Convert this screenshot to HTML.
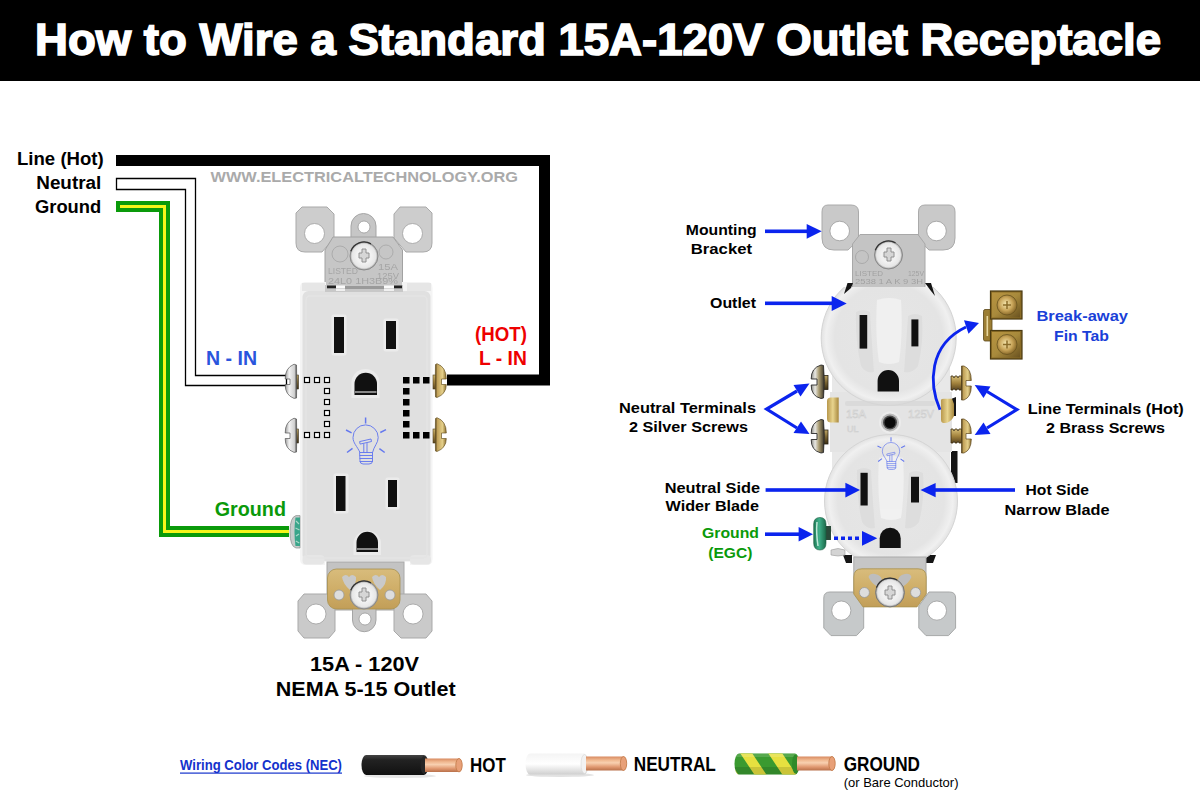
<!DOCTYPE html>
<html><head><meta charset="utf-8">
<style>
html,body{margin:0;padding:0;background:#fff;width:1200px;height:800px;overflow:hidden}
svg{display:block;font-family:"Liberation Sans",sans-serif}
</style></head><body>
<svg width="1200" height="800" viewBox="0 0 1200 800">
<defs>
 <radialGradient id="gScrew" cx="0.5" cy="0.5" r="0.5">
  <stop offset="0" stop-color="#dedede"/><stop offset="0.5" stop-color="#f2f2f2"/><stop offset="0.85" stop-color="#e6e6e6"/><stop offset="1" stop-color="#9a9a9a"/>
 </radialGradient>
 <linearGradient id="gSilverH" x1="0" x2="1" y1="0" y2="0">
  <stop offset="0" stop-color="#9a9a9a"/><stop offset="0.35" stop-color="#f2f2f2"/><stop offset="0.8" stop-color="#d0d0d0"/><stop offset="1" stop-color="#444"/>
 </linearGradient>
 <linearGradient id="gBrassH" x1="1" x2="0" y1="0" y2="0">
  <stop offset="0" stop-color="#8a6d2c"/><stop offset="0.35" stop-color="#e4cf8a"/><stop offset="0.8" stop-color="#c2a25a"/><stop offset="1" stop-color="#4a3a18"/>
 </linearGradient>
 <linearGradient id="gGreenH" x1="0" x2="1" y1="0" y2="0">
  <stop offset="0" stop-color="#9fb8b0"/><stop offset="0.4" stop-color="#4da58b"/><stop offset="1" stop-color="#2b7a63"/>
 </linearGradient>
 <linearGradient id="gBrassPlate" x1="0" x2="0" y1="0" y2="1">
  <stop offset="0" stop-color="#d8bc7c"/><stop offset="0.5" stop-color="#cfae68"/><stop offset="1" stop-color="#c29e58"/>
 </linearGradient>

 <radialGradient id="gFace" cx="0.5" cy="0.5" r="0.5">
  <stop offset="0" stop-color="#e6e6e6"/><stop offset="0.8" stop-color="#e4e4e4"/><stop offset="0.93" stop-color="#f0f0f0"/><stop offset="1" stop-color="#e2e2e2"/>
 </radialGradient>
 <linearGradient id="gThread" x1="0" x2="0" y1="0" y2="1">
  <stop offset="0" stop-color="#c0a868"/><stop offset="0.5" stop-color="#7a6432"/><stop offset="1" stop-color="#3a2e14"/>
 </linearGradient>
 <linearGradient id="gThreadB" x1="0" x2="0" y1="0" y2="1">
  <stop offset="0" stop-color="#d8c07a"/><stop offset="0.5" stop-color="#a4843e"/><stop offset="1" stop-color="#5a4520"/>
 </linearGradient>
 <linearGradient id="gBrassTab" x1="0" x2="1" y1="0" y2="0">
  <stop offset="0" stop-color="#b8984c"/><stop offset="0.5" stop-color="#e8d48e"/><stop offset="1" stop-color="#a8883e"/>
 </linearGradient>
 <linearGradient id="gGreenR" x1="0" x2="1" y1="0" y2="0">
  <stop offset="0" stop-color="#1f7a55"/><stop offset="0.45" stop-color="#3fb08a"/><stop offset="1" stop-color="#1b6a4a"/>
 </linearGradient>
 <linearGradient id="gFinSq" x1="0" x2="1" y1="0" y2="1">
  <stop offset="0" stop-color="#b89440"/><stop offset="0.5" stop-color="#a88a3c"/><stop offset="1" stop-color="#6a5220"/>
 </linearGradient>
 <radialGradient id="gFinC" cx="0.45" cy="0.45" r="0.55">
  <stop offset="0" stop-color="#f6e8b0"/><stop offset="0.6" stop-color="#c8a458"/><stop offset="1" stop-color="#8a6a2a"/>
 </radialGradient>

 <linearGradient id="gBlackW" x1="0" x2="0" y1="0" y2="1">
  <stop offset="0" stop-color="#444"/><stop offset="0.25" stop-color="#222"/><stop offset="1" stop-color="#111"/>
 </linearGradient>
 <linearGradient id="gWhiteW" x1="0" x2="0" y1="0" y2="1">
  <stop offset="0" stop-color="#f4f4f4"/><stop offset="0.5" stop-color="#ffffff"/><stop offset="1" stop-color="#cfcfcf"/>
 </linearGradient>
 <linearGradient id="gCopper" x1="0" x2="0" y1="0" y2="1">
  <stop offset="0" stop-color="#d88a60"/><stop offset="0.25" stop-color="#f0b890"/><stop offset="0.45" stop-color="#f8d0b0"/><stop offset="0.75" stop-color="#e09870"/><stop offset="1" stop-color="#b8704a"/>
 </linearGradient>
 <linearGradient id="gSilverR" x1="0" x2="1" y1="0" y2="0">
  <stop offset="0" stop-color="#8a8a84"/><stop offset="0.3" stop-color="#e8e8e4"/><stop offset="0.6" stop-color="#a89a70"/><stop offset="1" stop-color="#3a3428"/>
 </linearGradient>
<filter id="fBlur" x="-5%" y="-20%" width="110%" height="140%"><feGaussianBlur stdDeviation="0.35"/></filter>
</defs>
<!-- title bar -->
<rect x="0" y="0" width="1200" height="81" fill="#000"/>
<text x="35" y="55" font-size="44" font-weight="bold" fill="#fff" stroke="#fff" stroke-width="1.6" textLength="1126" lengthAdjust="spacingAndGlyphs">How to Wire a Standard 15A-120V Outlet Receptacle</text>


<!-- LEFT wiring -->
<g font-weight="bold">
<text x="17.0" y="165" font-size="18" textLength="86.73" lengthAdjust="spacingAndGlyphs">Line (Hot)</text>
<text x="36.25" y="189.25" font-size="18" textLength="65.02" lengthAdjust="spacingAndGlyphs">Neutral</text>
<text x="35.0" y="212.5" font-size="18" textLength="66.24" lengthAdjust="spacingAndGlyphs">Ground</text>
</g>
<!-- hot wire -->
<path d="M116 160.5 H544.5 V380 H447" fill="none" stroke="#000" stroke-width="11"/>
<!-- neutral wire -->
<path d="M116.5 178.5 H195.5 V375.5 H286.5 V385.5 H185.5 V189.5 H116.5 Z" fill="#fff" stroke="#000" stroke-width="1.3"/>
<!-- ground wire -->
<path d="M116 206.5 H164.5 V531.5 H289" fill="none" stroke="#0a9a0a" stroke-width="11"/>
<path d="M120 206.5 H164.5 V531.5 H289" fill="none" stroke="#f5f51a" stroke-width="3"/>
<!-- ===== LEFT OUTLET ===== -->
<g id="L">
 <!-- top bracket ears -->
 <path d="M302 207 H327 L334 214 V238 L322 252 H305 Q296 252 296 243 V213 Z" fill="#cdcdcd" stroke="#a9a9a9" stroke-width="1"/>
 <path d="M400 207 H426 L432 213 V243 Q432 252 423 252 H406 L394 238 V214 Z" fill="#cdcdcd" stroke="#a9a9a9" stroke-width="1"/>
 <circle cx="314.5" cy="233.5" r="10" fill="#fff" stroke="#a0a0a0" stroke-width="0.8"/>
 <circle cx="412.5" cy="233.5" r="10" fill="#fff" stroke="#a0a0a0" stroke-width="0.8"/>
 <!-- center tab -->
 <path d="M351 238 V226 A12.5 12.5 0 0 1 376 226 V238 Z" fill="#c6c6c6" stroke="#a5a5a5" stroke-width="1"/>
 <circle cx="364" cy="227" r="6" fill="#fff" stroke="#9a9a9a" stroke-width="0.8"/>
 <!-- plate -->
 <path d="M333 237 H393 L402.5 250 V287 H325 V250 Z" fill="#c6c6c6" stroke="#a2a2a2" stroke-width="1"/>
 <g fill="none" stroke="#a4a4a4" stroke-width="0.8">
  <circle cx="340" cy="254" r="8"/>
  <circle cx="386" cy="252" r="7"/>
 </g>
 <g font-size="9" fill="#8a8a8a" opacity="0.55" filter="url(#fBlur)">
  <text x="328" y="274" textLength="30" lengthAdjust="spacingAndGlyphs">LISTED</text>
  <text x="378" y="270" textLength="20" lengthAdjust="spacingAndGlyphs">15A</text>
  <text x="377" y="279" textLength="22" lengthAdjust="spacingAndGlyphs">125V</text>
  <text x="328" y="284" textLength="70" lengthAdjust="spacingAndGlyphs">24L0 1H3B9%</text>
 </g>
 <!-- screw top -->
 <circle cx="364" cy="256" r="14" fill="url(#gScrew)" stroke="#8a8a8a" stroke-width="1"/>
 <path d="M350.8 251.2 A14.0 14.0 0 0 1 371.0 243.9" fill="none" stroke="#333" stroke-width="1.3"/>
 <path d="M359 253 h3 v-4 h4 v4 h3 v5 h-3 v4 h-4 v-4 h-3 Z" fill="#d6d6d6" stroke="#8a8a8a" stroke-width="0.9" stroke-linejoin="round"/>
 <!-- body -->
 <path d="M300 288 Q300 282 305 282 H326 V291 H402 V282 H428 Q432.5 282 432.5 288 V559 Q432.5 565 427 565 H410 V562 H325 V565 H306 Q300 565 300 559 Z" fill="#f4f4f4"/>
 <rect x="302.5" y="291" width="128" height="270" rx="6" fill="#e0e0e0"/>
 <rect x="302.5" y="555" width="22" height="9.5" rx="4" fill="#e6e6e6"/>
 <rect x="410" y="555" width="21" height="9.5" rx="4" fill="#e6e6e6"/>
 <rect x="306" y="296" width="121" height="262" rx="4" fill="none" stroke="#e4e4e4" stroke-width="1.5"/>
 <rect x="302" y="283" width="23" height="8" fill="#e6e6e6"/>
 <rect x="407" y="283" width="24" height="8" fill="#e6e6e6"/>
 <rect x="325" y="285" width="78" height="7" fill="#c8c8c8"/>
 <rect x="327" y="285.5" width="9" height="2.8" fill="#222"/>
 <rect x="394" y="285.5" width="8" height="2.8" fill="#222"/>
 <rect x="336" y="285.5" width="9" height="2.8" fill="#fafafa"/>
 <rect x="384" y="285.5" width="10" height="2.8" fill="#fafafa"/>
 <rect x="345" y="286" width="39" height="3" fill="#9a9a9a"/>
 <rect x="336" y="289" width="9" height="2" fill="#f0f0f0"/>
 <rect x="384" y="289" width="10" height="2" fill="#f0f0f0"/>
 <!-- slots upper -->
 <rect x="331.5" y="314.5" width="15" height="41" rx="2" fill="#ebebeb"/>
 <rect x="383.5" y="318.5" width="15" height="33" rx="2" fill="#ebebeb"/>
 <rect x="334" y="317" width="10" height="36" fill="#111"/>
 <rect x="386" y="321" width="10" height="28" fill="#111"/>
 <path d="M351.5 398 V383 A14 14 0 0 1 379.5 383 V398 Z" fill="#ebebeb"/>
 <path d="M354.5 395 V384 A11.2 11.2 0 0 1 377 384 V395 Z" fill="#111"/>
 <rect x="355" y="391" width="21.5" height="2" fill="#888"/>
 <!-- slots lower -->
 <rect x="333.5" y="473.5" width="15" height="40" rx="2" fill="#ebebeb"/>
 <rect x="385.5" y="477.5" width="14" height="32" rx="2" fill="#ebebeb"/>
 <rect x="336" y="476" width="9.5" height="35" fill="#111"/>
 <rect x="388" y="480" width="9" height="27" fill="#111"/>
 <path d="M353.5 555 V542 A14 14 0 0 1 381 542 V555 Z" fill="#ebebeb"/>
 <path d="M356.5 552 V542.5 A10.7 10.7 0 0 1 378 542.5 V552 Z" fill="#111"/>
 <rect x="357" y="548" width="21" height="2" fill="#888"/>
 <!-- screws left silver -->
 <g id="sScrewL">
  <rect x="293" y="375" width="5.5" height="14" fill="url(#gThread)" stroke="#3a3020" stroke-width="0.6"/>
  <path d="M294 364.2 Q285 368 285.2 379 H290 V384.5 H285.2 Q285 395 294 398.4 L296.5 398 Q297 381 296.5 365 Z" fill="url(#gSilverH)" stroke="#555" stroke-width="0.7"/>
 </g>
 <use href="#sScrewL" y="54"/>
 <!-- brass screws right -->
 <g id="bScrewL">
  <rect x="433" y="375" width="5" height="14" fill="url(#gThreadB)" stroke="#4a3a18" stroke-width="0.6"/>
  <path d="M437 363.7 Q446.3 367 446.3 379 H441.5 V384.5 H446.3 Q446.3 394 437 397.5 L435.5 397 Q435 381 435.5 364.5 Z" fill="url(#gBrassH)" stroke="#6a5424" stroke-width="0.7"/>
 </g>
 <use href="#bScrewL" y="54"/>
 <!-- green ground screw -->
 <path d="M300 515.6 H296 Q290 517 290 531.8 Q290 546.5 296 548 H300 Z" fill="#c8cccb" stroke="#8a8e8c" stroke-width="0.7"/>
 <path d="M300 517.5 H295.5 Q293.5 531.8 295.5 546 H300 Z" fill="#3aa58a"/>
 <path d="M296 521 l3 3 M295.5 528 l4 2 M296 536 l3 -2 M295.8 541 l3.5 2" stroke="#a8d8c8" stroke-width="1.2"/>
 <!-- dotted squares -->
 <g fill="#fff" stroke="#000" stroke-width="1.2">
  <rect x="304.5" y="377.5" width="5" height="5"/><rect x="314.5" y="377.5" width="5" height="5"/><rect x="324.5" y="377.5" width="5" height="5"/>
  <rect x="324.5" y="388.5" width="5" height="5"/><rect x="324.5" y="399.5" width="5" height="5"/><rect x="324.5" y="410.5" width="5" height="5"/><rect x="324.5" y="421.5" width="5" height="5"/>
  <rect x="304.5" y="432.5" width="5" height="5"/><rect x="314.5" y="432.5" width="5" height="5"/><rect x="324.5" y="432.5" width="5" height="5"/>
 </g>
 <g fill="#000">
  <rect x="403" y="377" width="6.5" height="6.5"/><rect x="413" y="377" width="6.5" height="6.5"/><rect x="423" y="377" width="6.5" height="6.5"/>
  <rect x="403" y="388" width="6.5" height="6.5"/><rect x="403" y="399" width="6.5" height="6.5"/><rect x="403" y="410" width="6.5" height="6.5"/><rect x="403" y="421" width="6.5" height="6.5"/>
  <rect x="403" y="432" width="6.5" height="6.5"/><rect x="413" y="432" width="6.5" height="6.5"/><rect x="423" y="432" width="6.5" height="6.5"/>
 </g>
 <!-- bulb -->
 <g id="bulb" fill="none" stroke="#6478ee" stroke-width="0.95" stroke-linecap="round">
  <g stroke-width="1.5" stroke-linecap="butt">
  <path d="M365.6 417.5 V423.5"/>
  <path d="M346 430 L351.6 432.8"/><path d="M380.3 432.5 L386 429.7"/>
  <path d="M347 452.5 L352.5 448.4"/><path d="M379.4 448.7 L384.7 452.5"/>
  </g>
  <path d="M360 452.5 C357 446 353 443 353 437.5 A12.6 12.6 0 0 1 378.2 437.5 C378.2 443 374 446 372.5 452.5"/>
  <path d="M360 452.5 H372.5 V461 Q372.5 464 369 464 H363 Q360 464 360 461 Z"/>
  <path d="M360 455.5 H372.5 M360 458.5 H372.5 M360 461.5 H372.5"/>
  <path d="M363.8 452.5 V444 M367 452.5 V443.5"/>
  <path d="M360 441.5 L371 439 L371.5 441.5 L360.5 444 Z"/>
 </g>
 <!-- bottom bracket -->
 <rect x="327" y="562" width="77" height="48" fill="#c3c3c3" stroke="#a8a8a8" stroke-width="1"/>
 <path d="M304 594 H328 L335 602 V631 L329 638 H304 L298 631 V601 Z" fill="#cacaca" stroke="#a9a9a9" stroke-width="1"/>
 <path d="M400 594 H426 L432 601 V631 L426 638 H401 L394 631 V602 Z" fill="#cacaca" stroke="#a9a9a9" stroke-width="1"/>
 <circle cx="316" cy="614" r="10" fill="#fff" stroke="#a0a0a0" stroke-width="0.8"/>
 <circle cx="413" cy="614" r="10" fill="#fff" stroke="#a0a0a0" stroke-width="0.8"/>
 <path d="M352.5 605 V620 A11.75 11.75 0 0 0 376 620 V605 Z" fill="#c6c6c6" stroke="#a5a5a5" stroke-width="1"/>
 <circle cx="365" cy="619" r="6" fill="#fff" stroke="#9a9a9a" stroke-width="0.8"/>
 <rect x="327.5" y="569" width="72.5" height="40" rx="9" fill="url(#gBrassPlate)" stroke="#a8904c" stroke-width="0.8"/>
 <path d="M342 577 Q346 573 349 577 Q352 573 356 577 Q357 584 350 590 Q343 584 342 577 Z" fill="#c9c9c9"/>
 <path d="M372 577 Q376 573 379 577 Q382 573 386 577 Q387 584 380 590 Q373 584 372 577 Z" fill="#c9c9c9"/>
 <circle cx="339" cy="595" r="5" fill="#ddd" stroke="#999" stroke-width="0.8"/>
 <circle cx="390" cy="595" r="5" fill="#ddd" stroke="#999" stroke-width="0.8"/>
 <circle cx="364" cy="595" r="14" fill="url(#gScrew)" stroke="#8a8a8a" stroke-width="1"/>
 <path d="M350.8 590.2 A14.0 14.0 0 0 1 371.0 582.9" fill="none" stroke="#333" stroke-width="1.3"/>
 <path d="M359 592 h3 v-4 h4 v4 h3 v5 h-3 v4 h-4 v-4 h-3 Z" fill="#d6d6d6" stroke="#8a8a8a" stroke-width="0.9" stroke-linejoin="round"/>
</g>


<text x="210.5" y="182" font-size="15" font-weight="bold" fill="#aaa" textLength="307.5" lengthAdjust="spacingAndGlyphs">WWW.ELECTRICALTECHNOLOGY.ORG</text>

<g font-weight="bold">
<text x="206.0" y="365" font-size="20" textLength="51.02" lengthAdjust="spacingAndGlyphs" fill="#2a55dd">N - IN</text>
<text x="475.0" y="341" font-size="19.5" textLength="51.85" lengthAdjust="spacingAndGlyphs" fill="#e00">(HOT)</text>
<text x="479.0" y="364.6" font-size="19.5" textLength="47.79" lengthAdjust="spacingAndGlyphs" fill="#e00">L - IN</text>
<text x="214.7" y="515.6" font-size="19.5" textLength="71.3" lengthAdjust="spacingAndGlyphs" fill="#0a9a0a">Ground</text>
</g>

<g font-weight="bold">
<text x="310.0" y="671" font-size="20" textLength="109.04" lengthAdjust="spacingAndGlyphs">15A - 120V</text>
<text x="275.8" y="695.5" font-size="20" textLength="179.96" lengthAdjust="spacingAndGlyphs">NEMA 5-15 Outlet</text>
</g>

<!-- RIGHT labels -->
<g font-weight="bold">
<text x="685.8" y="235" font-size="15" textLength="70.87" lengthAdjust="spacingAndGlyphs">Mounting</text>
<text x="690.8" y="253.7" font-size="15" textLength="61.24" lengthAdjust="spacingAndGlyphs">Bracket</text>
<text x="710.0" y="308.3" font-size="15" textLength="46.03" lengthAdjust="spacingAndGlyphs">Outlet</text>
<text x="619.0" y="412.6" font-size="15" textLength="136.99" lengthAdjust="spacingAndGlyphs">Neutral Terminals</text>
<text x="629.0" y="431.6" font-size="15" textLength="118.97" lengthAdjust="spacingAndGlyphs">2 Silver Screws</text>
<text x="1027.8" y="414.4" font-size="15" textLength="156.0" lengthAdjust="spacingAndGlyphs">Line Terminals (Hot)</text>
<text x="1046.0" y="433.3" font-size="15" textLength="119.01" lengthAdjust="spacingAndGlyphs">2 Brass Screws</text>
<text x="664.7" y="493" font-size="15" textLength="95.33" lengthAdjust="spacingAndGlyphs">Neutral Side</text>
<text x="665.6" y="511.3" font-size="15" textLength="93.35" lengthAdjust="spacingAndGlyphs">Wider Blade</text>
<text x="1025.5" y="495.4" font-size="15" textLength="63.54" lengthAdjust="spacingAndGlyphs">Hot Side</text>
<text x="1004.5" y="514.8" font-size="15" textLength="104.99" lengthAdjust="spacingAndGlyphs">Narrow Blade</text>
<text x="1036.4" y="321.3" font-size="15" textLength="91.58" lengthAdjust="spacingAndGlyphs" fill="#1a3fd8">Break-away</text>
<text x="1054.0" y="340.5" font-size="15" textLength="55.01" lengthAdjust="spacingAndGlyphs" fill="#1a3fd8">Fin Tab</text>
<text x="702.0" y="538.2" font-size="15" textLength="56.95" lengthAdjust="spacingAndGlyphs" fill="#0a9a0a">Ground</text>
<text x="708.3" y="557.5" font-size="15" textLength="44.1" lengthAdjust="spacingAndGlyphs" fill="#0a9a0a">(EGC)</text>
</g>


<!-- ===== RIGHT OUTLET ===== -->
<g id="R">
 <!-- top bracket -->
 <path d="M828 205 H851 Q858.5 205 858.5 212 V240 L848 250 H834 Q822 250 822 238 V212 Q822 205 828 205 Z" fill="#c9c9c9" stroke="#aaa" stroke-width="1"/>
 <path d="M925 205 H949 Q955 205 955 212 V238 Q955 250 943 250 H929 L918.5 240 V212 Q918.5 205 925 205 Z" fill="#c9c9c9" stroke="#aaa" stroke-width="1"/>
 <circle cx="839.7" cy="231" r="9.8" fill="#fff" stroke="#9c9c9c" stroke-width="0.8"/>
 <circle cx="936.5" cy="231" r="9.8" fill="#fff" stroke="#9c9c9c" stroke-width="0.8"/>
 <path d="M860 234.5 H918 L925 244 V288 H852.5 V244 Z" fill="#c4c4c4" stroke="#a8a8a8" stroke-width="1"/>
 <circle cx="862" cy="257" r="6.5" fill="none" stroke="#a2a2a2" stroke-width="0.8"/>
 <g font-size="8" fill="#8a8a8a" opacity="0.6" filter="url(#fBlur)">
  <text x="855" y="276" textLength="28" lengthAdjust="spacingAndGlyphs">LISTED</text>
  <text x="908" y="276" textLength="16" lengthAdjust="spacingAndGlyphs">125V</text>
  <text x="855" y="284" textLength="68" lengthAdjust="spacingAndGlyphs">2538 1 A K 9 3H</text>
 </g>
 <circle cx="888.5" cy="255" r="14" fill="url(#gScrew)" stroke="#8a8a8a" stroke-width="1"/>
 <path d="M875.3 250.2 A14.0 14.0 0 0 1 895.5 242.9" fill="none" stroke="#333" stroke-width="1.3"/>
 <path d="M884 252 h3 v-4 h4 v4 h3 v5 h-3 v4 h-4 v-4 h-3 Z" fill="#d6d6d6" stroke="#8a8a8a" stroke-width="0.9" stroke-linejoin="round"/>
 <!-- black bits -->
 <!-- body sides -->
 <path d="M951 399 L956 397 V416 H951 Z" fill="#151515"/>
 <rect x="951" y="451" width="6.5" height="32" fill="#151515"/>
 <path d="M926 555 H936 L933 563 H926 Z" fill="#151515"/>
 <path d="M843 555 H852 V563 H846 Z" fill="#151515"/>
 <path d="M832 340 H950 V470 H832 Z" fill="#e8e8e8"/>
 <path d="M830 392 H952 V452 H830 Z" fill="#e4e4e4"/>
 <!-- upper face -->
 <clipPath id="cUF"><rect x="800" y="287" width="180" height="130"/></clipPath>
 <clipPath id="cLF"><rect x="800" y="430" width="180" height="128.6"/></clipPath>
 <circle cx="888.7" cy="338" r="67.5" fill="url(#gFace)" stroke="#d4d4d4" stroke-width="1" clip-path="url(#cUF)"/>
 <!-- lower face -->
 <circle cx="891" cy="501" r="66.5" fill="url(#gFace)" stroke="#d4d4d4" stroke-width="1" clip-path="url(#cLF)"/>
 <path d="M844 294 L847.5 283 H853 L851 288 Z" fill="#151515"/>
 <path d="M925 283 H931 L935 296 L931 291 Z" fill="#151515"/>
 <!-- face ridges -->
 <g fill="#dcdcdc" opacity="0.8">
  <path d="M856 312 Q863 308 870 312 Q872 345 874 372 Q866 374 861 366 Q855 340 856 312 Z"/>
  <path d="M908 316 Q915 312 922 316 Q924 342 918 366 Q912 374 904 372 Q906 345 908 316 Z"/>
  <path d="M857 470 Q864 466 871 470 Q873 503 875 528 Q867 530 862 522 Q856 497 857 470 Z"/>
  <path d="M909 473 Q916 469 923 473 Q925 499 919 522 Q913 530 905 528 Q907 502 909 473 Z"/>
 </g>
 <g fill="#f2f2f2" opacity="0.9">
  <path d="M877 300 Q889 296 901 300 Q903 335 899 362 Q889 366 879 362 Q875 335 877 300 Z"/>
  <path d="M879 458 Q891 454 903 458 Q905 492 901 518 Q891 522 881 518 Q877 492 879 458 Z"/>
 </g>
 <rect x="845" y="401" width="90" height="5" rx="2" fill="#d6d6d6" opacity="0.7"/>
 <!-- middle text -->
 <g font-size="11" fill="#f0f0f0" stroke="#cdcdcd" stroke-width="0.6">
  <text x="846" y="418" textLength="20" lengthAdjust="spacingAndGlyphs">15A</text><text x="908" y="418" textLength="26" lengthAdjust="spacingAndGlyphs">125V</text><text x="847" y="432" font-size="9">UL</text>
 </g>
 <circle cx="890" cy="422.5" r="11" fill="#ececec"/>
 <circle cx="890" cy="422.5" r="9" fill="#b8b8b8"/>
 <circle cx="890" cy="422.5" r="7" fill="#4a4a4a"/>
 <circle cx="890" cy="422.5" r="5.5" fill="#0a0a0a"/>
 <!-- slots -->
 <rect x="859.6" y="315" width="7.6" height="33.6" fill="#111"/>
 <rect x="911.4" y="319.4" width="7" height="27" fill="#111"/>
 <path d="M877.6 391.4 V380.7 A10.7 10.7 0 0 1 899 380.7 V391.4 Z" fill="#111"/>
 <rect x="860.5" y="472.8" width="7.2" height="32.7" fill="#111"/>
 <rect x="911" y="476.8" width="8" height="25.7" fill="#111"/>
 <path d="M879.7 548 V538.2 A10.5 10.5 0 0 1 900.7 538.2 V548 Z" fill="#111"/>
 <!-- small bulb -->
 <g transform="translate(891 451.5) scale(0.69) translate(-365.6 -438)">
  <use href="#bulb"/>
 </g>
 <!-- silver screws left -->
 <g id="sScrewR">
  <rect x="822" y="375.5" width="6" height="14" fill="url(#gThread)" stroke="#2a2214" stroke-width="0.8"/>
  <path d="M821 365 Q811 368 811.2 379 H817 V385 H811.2 Q811 396 821 398.5 L823.5 398 Q825 381 823.5 365.5 Z" fill="url(#gSilverR)" stroke="#2a2a2a" stroke-width="0.9"/>
 </g>
 <use href="#sScrewR" y="54.5"/>
 <path d="M827 401 Q827 397.5 831 397.5 H838.7 V422.5 H831 Q827 422.5 827 419 Z" fill="url(#gBrassTab)"/>
 <!-- brass screws right -->
 <g id="bScrewR">
  <path d="M951 376 h2 l1 2 l1 -2 h2 l1 2 l1 -2 h2.5 V390 h-2.5 l-1 -2 l-1 2 h-2 l-1 -2 l-1 2 h-2 Z" fill="url(#gThreadB)" stroke="#3a2c10" stroke-width="0.8"/>
  <path d="M961.5 366 H964 Q971.3 369 971.3 380.5 H966 V386 H971.3 Q971.3 397 964 400 H961.5 Z" fill="url(#gBrassH)" stroke="#5a4418" stroke-width="0.7"/>
 </g>
 <use href="#bScrewR" y="53"/>
 <path d="M941 400 Q941 398.7 944 398.7 H952 L954 404 V416 Q951 422.5 945 423 H943 Q941 422.5 941 420 Z" fill="url(#gBrassTab)"/>
 <!-- green screw -->
 <rect x="825" y="526" width="6" height="14" fill="#2a4a3a"/>
 <path d="M820 517.5 Q826 517.5 826 524 V543 Q826 550 820 550 Q813.7 550 813.7 543 V524 Q813.7 517.5 820 517.5 Z" fill="url(#gGreenR)" stroke="#1a5a40" stroke-width="0.6"/>
 <path d="M817 522 Q816 533 818 546" stroke="#bfe8d8" stroke-width="1.5" fill="none"/>
 <path d="M831 550 Q838 547 845 550 V555 Q838 557 831 555 Z" fill="#d4d4d4" stroke="#9a9a9a" stroke-width="0.6"/>
 <!-- bottom bracket -->
 <rect x="853.8" y="557" width="72.2" height="43" fill="#c6c6c6" stroke="#aaa" stroke-width="1"/>
 <path d="M830 592 H853 L863.7 606 V628 L856.5 635.6 H831 L823.8 628 V598 Q823.8 592 830 592 Z" fill="#c6c9ca" stroke="#a6a8a8" stroke-width="1"/>
 <path d="M929 592 H949.5 Q955.6 592 955.6 598 V628 L948.5 635.6 H926 L918.8 628 V606 Z" fill="#c6c9ca" stroke="#a6a8a8" stroke-width="1"/>
 <circle cx="841.3" cy="610.6" r="9.6" fill="#fff" stroke="#9c9c9c" stroke-width="0.8"/>
 <circle cx="936.9" cy="610.6" r="9.6" fill="#fff" stroke="#9c9c9c" stroke-width="0.8"/>
 <path d="M862 568.8 H918 Q926.2 568.8 926.2 577 V594 L917 606.9 H863 L853.8 594 V577 Q853.8 568.8 862 568.8 Z" fill="url(#gBrassPlate)" stroke="#a8904c" stroke-width="0.8"/>
 <path d="M868.5 577 Q870 573 875 574 Q881 575 882 580 L878 587 Q871 583 868.5 577 Z" fill="#bdbdbd"/>
 <path d="M911.5 577 Q910 573 905 574 Q899 575 898 580 L902 587 Q909 583 911.5 577 Z" fill="#bdbdbd"/>
 <circle cx="864.4" cy="592.5" r="5" fill="#ddd" stroke="#999" stroke-width="0.8"/>
 <circle cx="915.6" cy="592.5" r="5" fill="#ddd" stroke="#999" stroke-width="0.8"/>
 <circle cx="890" cy="592.5" r="14.4" fill="url(#gScrew)" stroke="#777" stroke-width="1"/>
 <path d="M876.5 587.6 A14.4 14.4 0 0 1 897.2 580.0" fill="none" stroke="#333" stroke-width="1.3"/>
 <path d="M885 590 h3 v-4 h4 v4 h3 v5 h-3 v4 h-4 v-4 h-3 Z" fill="#d6d6d6" stroke="#8a8a8a" stroke-width="0.9" stroke-linejoin="round"/>
</g>

<!-- fin tab -->
<g id="fin">
 <path d="M985 309.5 H992 V341 H985 Q983.5 341 983.5 339 V311.5 Q983.5 309.5 985 309.5 Z" fill="#9c7e34" stroke="#5a4618" stroke-width="0.8"/>
 <rect x="986.5" y="316" width="1.6" height="20" fill="#e8d8a0"/>
 <rect x="990.5" y="291" width="31.5" height="28" fill="#8a6c26" stroke="#4a3a12" stroke-width="1.2"/>
 <rect x="990.5" y="330.5" width="31.5" height="28.5" fill="#8a6c26" stroke="#4a3a12" stroke-width="1.2"/>
 <rect x="992" y="292.5" width="28" height="25" fill="url(#gFinSq)"/>
 <rect x="992" y="332" width="28" height="25.5" fill="url(#gFinSq)"/>
 <circle cx="1007" cy="305" r="10" fill="url(#gFinC)" stroke="#6a5420" stroke-width="0.8"/>
 <circle cx="1007" cy="344.5" r="10" fill="url(#gFinC)" stroke="#6a5420" stroke-width="0.8"/>
 <path d="M1003 305 h8 M1007 301 v8 M1003 344.5 h8 M1007 340.5 v8" stroke="#8a6c2a" stroke-width="1.5"/>
</g>

<!-- arrows -->
<g fill="#0b24ee" stroke="none">
 <rect x="765" y="229.5" width="43" height="3.6"/>
 <path d="M806.7 224 L821.7 231.3 L806.7 238.7 Z"/>
 <rect x="765" y="301.5" width="68" height="3.6"/>
 <path d="M831.7 296 L846.7 303.4 L831.7 311 Z"/>
 <rect x="765.6" y="488.2" width="82" height="3.6"/>
 <path d="M845.4 482.8 L860 490 L845.4 497.5 Z"/>
 <rect x="935" y="488.2" width="80" height="3.6"/>
 <path d="M935.6 482.9 L920.5 490 L935.6 497.3 Z"/>
 <rect x="765" y="532.4" width="35" height="3.6"/>
 <path d="M798.6 527 L813 534.2 L798.6 541.5 Z"/>
 <path d="M862 531 L877.3 538.2 L862 545.8 Z"/>
 <path d="M834 536.5 h4 v3.5 h-4 Z M841 536.5 h4 v3.5 h-4 Z M848 536.5 h4 v3.5 h-4 Z M855 536.5 h4 v3.5 h-4 Z"/>
 <path d="M797 391 L766.6 409 L797 428" fill="none" stroke="#0b24ee" stroke-width="3.2" stroke-linejoin="miter"/>
 <path d="M809.5 383.5 L793.5 385 L800.5 396.5 Z"/>
 <path d="M809.5 434 L793.5 433 L801 421.5 Z"/>
 <path d="M987 391.5 L1016.9 409.6 L987 428" fill="none" stroke="#0b24ee" stroke-width="3.2" stroke-linejoin="miter"/>
 <path d="M974.7 385 L990.5 386.5 L983.5 398 Z"/>
 <path d="M974.7 435 L990.5 434 L983.5 422.5 Z"/>
 <path d="M940 409.7 C929 385 928 345 966 327" fill="none" stroke="#0b24ee" stroke-width="2.8"/>
 <path d="M979 323 L964 320.3 L968.5 333.8 Z"/>
</g>


<!-- legend wires -->
<g id="wires">
 <!-- black -->
 <ellipse cx="400" cy="776" rx="36" ry="2" fill="#e6e6e6"/>
 <path d="M366 755 H424 A4.5 10 0 0 1 424 775 H366 A4.5 10 0 0 1 366 755 Z" fill="url(#gBlackW)"/>
 <ellipse cx="424" cy="765" rx="3.5" ry="9" fill="#262626"/>
 <path d="M425 758.5 H459 A3.2 6.75 0 0 1 459 772 H425 Z" fill="url(#gCopper)"/>
 <ellipse cx="459" cy="765.2" rx="3.2" ry="6.7" fill="#e8a078" stroke="#c07848" stroke-width="0.8"/>
 <!-- white -->
 <ellipse cx="560" cy="775" rx="34" ry="2" fill="#e2e2e2"/>
 <path d="M530 753.5 H584 A4.5 10.5 0 0 1 584 774.5 H530 A4.5 10.5 0 0 1 530 753.5 Z" fill="url(#gWhiteW)"/>
 <ellipse cx="584.5" cy="764" rx="3.5" ry="9.5" fill="#f2f2f2" stroke="#d6d6d6" stroke-width="0.6"/>
 <path d="M586 756.5 H623.5 A3.2 7 0 0 1 623.5 770.5 H586 Z" fill="url(#gCopper)"/>
 <ellipse cx="623.5" cy="763.5" rx="3.2" ry="7" fill="#e8a078" stroke="#c07848" stroke-width="0.8"/>
 <!-- green/yellow -->
 <clipPath id="cGW"><path d="M739 753.5 H795 A4.5 10.5 0 0 1 795 774.5 H739 A4.5 10.5 0 0 1 739 753.5 Z"/></clipPath>
 <g clip-path="url(#cGW)">
  <rect x="730" y="750" width="75" height="30" fill="#3a9a30"/>
  <path d="M738 750 L750 750 L770 780 L758 780 Z M766 750 L780 750 L800 780 L786 780 Z M712 750 L722 750 L742 780 L732 780 Z" fill="#e6e040"/>
  <rect x="730" y="767" width="75" height="8" fill="#000" opacity="0.12"/>
  <rect x="730" y="754" width="75" height="3" fill="#fff" opacity="0.15"/>
 </g>
 <ellipse cx="795.5" cy="764" rx="3.5" ry="9.5" fill="#2e8a2a"/>
 <path d="M797 756.5 H832 A3.2 7 0 0 1 832 770.5 H797 Z" fill="url(#gCopper)"/>
 <ellipse cx="832" cy="763.5" rx="3.2" ry="7" fill="#e8a078" stroke="#c07848" stroke-width="0.8"/>
</g>

<!-- legend -->
<text x="180.1" y="770.4" font-size="15" font-weight="bold" textLength="161.89" lengthAdjust="spacingAndGlyphs" fill="#1432cc">Wiring Color Codes (NEC)</text>
<rect x="180" y="772.5" width="162" height="1.2" fill="#1432cc"/>
<text x="470.0" y="771.75" font-size="20.6" font-weight="bold" textLength="35.74" lengthAdjust="spacingAndGlyphs">HOT</text>
<text x="633.75" y="770.8" font-size="21" font-weight="bold" textLength="82.07" lengthAdjust="spacingAndGlyphs">NEUTRAL</text>
<text x="843.7" y="770.8" font-size="20.6" font-weight="bold" textLength="76.26" lengthAdjust="spacingAndGlyphs">GROUND</text>
<text x="843.7" y="787.25" font-size="13.4" textLength="114.82" lengthAdjust="spacingAndGlyphs">(or Bare Conductor)</text>

</svg>
</body></html>
